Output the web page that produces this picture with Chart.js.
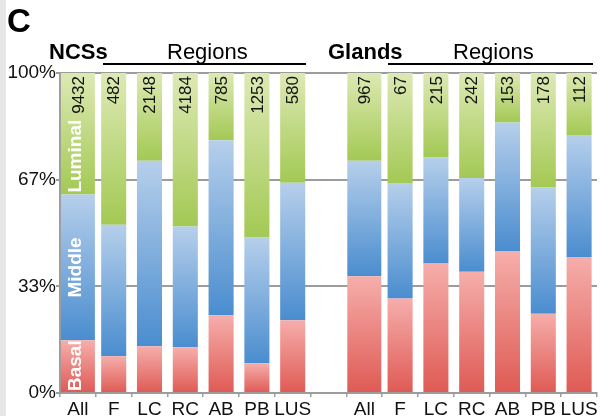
<!DOCTYPE html>
<html>
<head>
<meta charset="utf-8">
<script src="https://cdn.jsdelivr.net/npm/chart.js@4/dist/chart.umd.min.js"></script>
<style>
  html, body { margin: 0; padding: 0; background: #ffffff; }
  #wrap { position: relative; width: 601px; height: 416px; overflow: hidden; }
  canvas { display: block; }
</style>
</head>
<body>
<div id="wrap"><canvas id="c" width="601" height="416"></canvas></div>
<script>
// ---- data ----
const categories = ['All', 'F', 'LC', 'RC', 'AB', 'PB', 'LUS', '', 'All', 'F', 'LC', 'RC', 'AB', 'PB', 'LUS'];
const basal   = [16.5, 11.5, 14.6, 14.3, 24.3,  9.3, 22.7, null, 36.5, 29.5, 40.5, 37.9, 44.4, 24.8, 42.5];
const middle  = [45.5, 41.1, 58.0, 37.7, 54.7, 39.3, 43.0, null, 36.1, 36.1, 33.1, 29.3, 40.1, 39.4, 38.1];
const luminal = [38.0, 47.4, 27.4, 48.0, 21.0, 51.4, 34.3, null, 27.4, 34.4, 26.4, 32.8, 15.5, 35.8, 19.4];
const counts  = ['9432', '482', '2148', '4184', '785', '1253', '580', '', '967', '67', '215', '242', '153', '178', '112'];
const yTickValues = [0, 100 / 3, 200 / 3, 100];
const yTickLabels = ['0%', '33%', '67%', '100%'];
const groupTitles = ['NCSs', 'Glands'];
const groupSubtitle = 'Regions';
const panelLetter = 'C';
const layerNames = ['Basal', 'Middle', 'Luminal'];

const FONT = '"Liberation Sans", Arial, Helvetica, sans-serif';
const GRAY = '#9c9c9c';
const palette = {
  basal:   ['#f6aeab', '#df5a54'],
  middle:  ['#b6cfeb', '#4a8dcf'],
  luminal: ['#dde9b4', '#a3c954']
};

const isAll = i => categories[i] === 'All';
function pick(arr, wantAll) { return arr.map((v, i) => (isAll(i) === wantAll ? v : null)); }

function segmentRange(layer, i) {
  const b = basal[i] || 0, m = middle[i] || 0, l = luminal[i] || 0;
  if (layer === 'basal') return [0, b];
  if (layer === 'middle') return [b, b + m];
  return [b + m, b + m + l];
}
function gradFor(layer) {
  const [cTop, cBot] = palette[layer];
  return function (ctx) {
    const chart = ctx.chart;
    const y = chart.scales && chart.scales.y;
    if (!y || ctx.type !== 'data') return cBot;
    const [lo, hi] = segmentRange(layer, ctx.dataIndex);
    const top = y.getPixelForValue(hi), bot = y.getPixelForValue(lo);
    if (!isFinite(top) || !isFinite(bot) || top === bot) return cBot;
    const g = chart.ctx.createLinearGradient(0, top, 0, bot);
    g.addColorStop(0, cTop);
    g.addColorStop(1, cBot);
    return g;
  };
}

function ds(layer, arr, wantAll) {
  return {
    label: layer + (wantAll ? '-all' : ''),
    data: pick(arr, wantAll),
    stack: 'one',
    skipNull: true,
    backgroundColor: gradFor(layer),
    borderWidth: 0,
    barPercentage: wantAll ? 0.95 : 0.70,
    categoryPercentage: 1.0
  };
}

const decor = {
  id: 'decor',
  beforeDraw(chart) {
    const c = chart.ctx;
    c.save();
    c.fillStyle = '#e5e6e8';
    c.fillRect(0, 0, 6, chart.height);
    c.restore();
  },
  afterDatasetsDraw(chart) {
    const c = chart.ctx;
    const xs = chart.scales.x, ys = chart.scales.y;
    c.save();
    // counts
    c.fillStyle = '#111';
    c.font = '17px ' + FONT;
    c.textAlign = 'right';
    c.textBaseline = 'middle';
    counts.forEach((t, i) => {
      if (!t) return;
      const x = xs.getPixelForValue(i) + 1;
      const y = ys.getPixelForValue(100) + 3;
      c.save();
      c.translate(x, y);
      c.rotate(-Math.PI / 2);
      c.fillText(t, 0, 0);
      c.restore();
    });
    // layer names inside first bar
    c.fillStyle = '#ffffff';
    c.font = 'bold 19px ' + FONT;
    const x0 = xs.getPixelForValue(0) - 2;
    const b = basal[0], m = middle[0];
    const place = (text, yPix, align) => {
      c.save();
      c.translate(x0, yPix);
      c.rotate(-Math.PI / 2);
      c.textAlign = align;
      c.fillText(text, 0, 0);
      c.restore();
    };
    place(layerNames[0], ys.getPixelForValue(0) - 2, 'left');
    place(layerNames[1], ys.getPixelForValue(b + m / 2), 'center');
    place(layerNames[2], ys.getPixelForValue(b + m) - 2, 'left');
    c.restore();
  },
  afterDraw(chart) {
    const c = chart.ctx;
    c.save();
    c.fillStyle = '#000';
    c.textBaseline = 'alphabetic';
    c.textAlign = 'left';
    c.font = 'bold 33px ' + FONT;
    c.fillText(panelLetter, 7, 32);
    c.font = 'bold 22px ' + FONT;
    c.fillText(groupTitles[0], 49, 59);
    c.fillText(groupTitles[1], 328, 59);
    c.font = '22px ' + FONT;
    c.fillText(groupSubtitle, 167, 59);
    c.fillText(groupSubtitle, 453, 59);
    c.strokeStyle = '#000';
    c.lineWidth = 2;
    c.beginPath();
    c.moveTo(103, 64); c.lineTo(306, 64);
    c.moveTo(388, 64); c.lineTo(593, 64);
    c.stroke();
    c.restore();
  }
};

new Chart(document.getElementById('c'), {
  type: 'bar',
  data: {
    labels: categories,
    datasets: [
      ds('basal', basal, true), ds('middle', middle, true), ds('luminal', luminal, true),
      ds('basal', basal, false), ds('middle', middle, false), ds('luminal', luminal, false)
    ]
  },
  options: {
    responsive: false,
    devicePixelRatio: 1,
    animation: false,
    layout: { padding: { top: 73, right: 4, left: 0, bottom: 0 } },
    plugins: { legend: { display: false }, tooltip: { enabled: false } },
    scales: {
      x: {
        stacked: true,
        offset: true,
        grid: { offset: true, drawOnChartArea: false, drawTicks: true, tickLength: 4, color: GRAY, lineWidth: 1.5 },
        border: { color: GRAY, width: 2 },
        ticks: { color: '#111', font: { family: FONT, size: 19 }, padding: 1, maxRotation: 0, autoSkip: false },
        afterFit(s) { s.height = 23; }
      },
      y: {
        stacked: true,
        min: 0,
        max: 100,
        afterBuildTicks(s) { s.ticks = yTickValues.map(v => ({ value: v })); },
        grid: { color: GRAY, lineWidth: 2, tickLength: 4 },
        border: { color: GRAY, width: 2 },
        ticks: {
          color: '#111',
          font: { family: FONT, size: 19 },
          padding: 0,
          callback: (v, idx) => yTickLabels[idx]
        },
        afterFit(s) { s.width = 60; }
      }
    }
  },
  plugins: [decor]
});
</script>
</body>
</html>
